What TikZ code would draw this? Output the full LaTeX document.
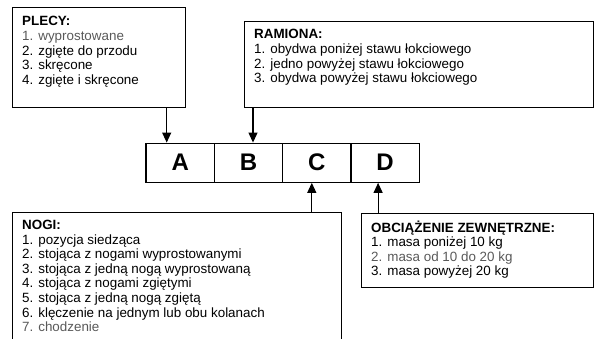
\documentclass[tikz,border=0pt]{standalone}
\usepackage{fontspec}
\setmainfont{Liberation Sans}
\usetikzlibrary{arrows.meta}
\tikzstyle{panel} = [draw=black, line width=1.3pt, anchor=north west, inner sep=0pt]
\tikzstyle{list} = [anchor=base west, align=left, inner sep=0pt, font={\fontsize{13.4}{14.6}\selectfont}]
\tikzstyle{cell} = [draw=black, line width=1.3pt, minimum width=68.3pt, minimum height=39pt, inner sep=0pt, font={\fontsize{24}{24}\selectfont\bfseries}]
\tikzstyle{pointer} = [-{Triangle[length=10pt,width=9pt]}, line width=1.1pt]
\begin{document}
\begin{tikzpicture}[x=1pt,y=-1pt]
        \useasboundingbox (0,0) rectangle (594,339);
        % the four boxes with the lists (text placed by its last baseline)
        \node[panel, minimum width=173pt, minimum height=100pt](plecy) at (12,7){};
        \node[panel, minimum width=349pt, minimum height=86pt](ramiona) at (244,21){};
        \node[panel, minimum width=329pt, minimum height=140pt](nogi) at (12,212){};
        \node[panel, minimum width=232pt, minimum height=74pt](obc) at (361,213){};
        \node[list](plecytxt) at (22,84.4){\textbf{PLECY:}\\ \textcolor{black!65}{1. wyprostowane}\\ 2. zgięte do przodu\\ 3. skręcone\\ 4. zgięte i skręcone};
        \node[list](ramionatxt) at (254,82.8){\textbf{RAMIONA:}\\ 1. obydwa poniżej stawu łokciowego\\ 2. jedno powyżej stawu łokciowego\\ 3. obydwa powyżej stawu łokciowego};
        \node[list](nogitxt) at (22,331.7){\textbf{NOGI:}\\ 1. pozycja siedząca\\ 2. stojąca z nogami wyprostowanymi\\ 3. stojąca z jedną nogą wyprostowaną\\ 4. stojąca z nogami zgiętymi\\ 5. stojąca z jedną nogą zgiętą\\ 6. klęczenie na jednym lub obu kolanach\\ \textcolor{black!65}{7. chodzenie}};
        \node[list](obctxt) at (371,275.8){\textbf{OBCIĄŻENIE ZEWNĘTRZNE:}\\ 1. masa poniżej 10 kg\\ \textcolor{black!65}{2. masa od 10 do 20 kg}\\ 3. masa powyżej 20 kg};
        % the code row
        \node[cell](A) at (180.2,162.7){A};
        \node[cell](B) at (248.5,162.7){B};
        \node[cell](C) at (316.8,162.7){C};
        \node[cell](D) at (385.1,162.7){D};
        \coordinate (tipA) at ([xshift=-13.5pt]A.north);
        \coordinate (tipB) at ([xshift=4.5pt]B.north);
        \coordinate (tipC) at ([xshift=-5pt]C.south);
        \coordinate (tipD) at ([xshift=-7pt]D.south);
        \draw[pointer](plecy.south -| tipA)--(tipA);
        \draw[pointer](ramiona.south -| tipB)--(tipB);
        \draw[pointer](nogi.north -| tipC)--(tipC);
        \draw[pointer](obc.north -| tipD)--(tipD);
      \end{tikzpicture}
\end{document}
